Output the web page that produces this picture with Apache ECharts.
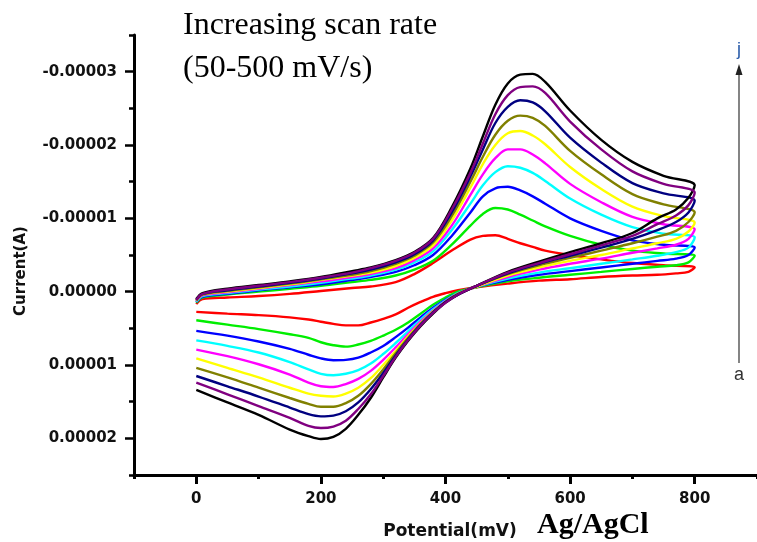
<!DOCTYPE html>
<html>
<head>
<meta charset="utf-8">
<script src="https://cdn.jsdelivr.net/npm/echarts@6/dist/echarts.min.js"></script>
<style>
html,body{margin:0;padding:0;background:#fff;}
#chart{width:757px;height:542px;}
</style>
</head>
<body>
<div id="chart"></div>
<script>
// Potentials (mV) of the forward (anodic) and reverse (cathodic) sweeps
const fwdPotential = [0, 10, 50, 100, 150, 200, 250, 280, 320, 350, 380, 410, 440, 460, 480, 500, 520, 540, 560, 600, 650, 700, 750, 800];
const revPotential = [790, 770, 740, 700, 650, 600, 550, 500, 450, 420, 400, 380, 360, 340, 320, 300, 280, 260, 240, 220, 200, 180, 150, 100, 50, 0];

// Curve colours (a..j = 50..500 mV/s); drawing order puts purple (i) last
const curveColors = ['#ff0000', '#00ee00', '#0000ff', '#00ffff', '#ff00ff', '#ffff00', '#808000', '#000080', '#000000', '#800080'];
const seriesNames = ['a', 'b', 'c', 'd', 'e', 'f', 'g', 'h', 'j', 'i'];

// Current in units of 1e-5 A (negative plotted upward, axis inverted)
const fwdA = [0.17, 0.1, 0.08, 0.06, 0.03, -0.01, -0.05, -0.07, -0.13, -0.24, -0.39, -0.56, -0.71, -0.76, -0.77, -0.72, -0.66, -0.61, -0.56, -0.5, -0.44, -0.39, -0.36, -0.33];
const revA = [-0.27, -0.25, -0.23, -0.22, -0.2, -0.17, -0.15, -0.11, -0.06, -0.02, 0.02, 0.07, 0.14, 0.22, 0.31, 0.37, 0.42, 0.46, 0.46, 0.44, 0.41, 0.38, 0.35, 0.32, 0.3, 0.275];

const fwdB = [0.15, 0.08, 0.04, 0.0, -0.04, -0.08, -0.13, -0.16, -0.22, -0.3, -0.42, -0.64, -0.9, -1.06, -1.14, -1.12, -1.05, -0.97, -0.89, -0.76, -0.64, -0.56, -0.52, -0.49];
const revB = [-0.4, -0.36, -0.34, -0.31, -0.27, -0.23, -0.19, -0.14, -0.06, 0.0, 0.08, 0.18, 0.3, 0.42, 0.52, 0.6, 0.67, 0.72, 0.75, 0.73, 0.69, 0.63, 0.58, 0.51, 0.45, 0.39];

const fwdC = [0.14, 0.07, 0.03, -0.02, -0.06, -0.1, -0.16, -0.2, -0.27, -0.36, -0.5, -0.76, -1.08, -1.3, -1.41, -1.43, -1.38, -1.3, -1.2, -1.0, -0.83, -0.7, -0.64, -0.6];
const revC = [-0.5, -0.45, -0.42, -0.38, -0.33, -0.28, -0.23, -0.16, -0.07, 0.02, 0.11, 0.22, 0.35, 0.49, 0.62, 0.74, 0.83, 0.9, 0.93, 0.935, 0.91, 0.86, 0.78, 0.68, 0.6, 0.535];

const fwdD = [0.14, 0.06, 0.02, -0.03, -0.07, -0.12, -0.18, -0.22, -0.3, -0.4, -0.55, -0.84, -1.2, -1.45, -1.63, -1.71, -1.69, -1.62, -1.51, -1.27, -1.05, -0.88, -0.79, -0.74];
const revD = [-0.6, -0.54, -0.49, -0.44, -0.38, -0.32, -0.26, -0.18, -0.07, 0.02, 0.12, 0.24, 0.38, 0.54, 0.7, 0.85, 0.98, 1.07, 1.12, 1.14, 1.12, 1.06, 0.96, 0.83, 0.74, 0.665];

const fwdE = [0.13, 0.05, 0.01, -0.04, -0.09, -0.14, -0.2, -0.24, -0.32, -0.43, -0.59, -0.9, -1.32, -1.6, -1.82, -1.94, -1.94, -1.87, -1.75, -1.47, -1.22, -1.02, -0.92, -0.85];
const revE = [-0.72, -0.64, -0.59, -0.53, -0.45, -0.38, -0.3, -0.2, -0.07, 0.03, 0.13, 0.26, 0.41, 0.58, 0.76, 0.93, 1.08, 1.19, 1.26, 1.3, 1.29, 1.24, 1.13, 0.99, 0.88, 0.79];

const fwdF = [0.12, 0.04, 0.0, -0.05, -0.1, -0.16, -0.22, -0.26, -0.35, -0.46, -0.63, -0.97, -1.42, -1.74, -2.0, -2.16, -2.19, -2.13, -2.01, -1.7, -1.4, -1.16, -1.03, -0.94];
const revF = [-0.82, -0.72, -0.66, -0.59, -0.5, -0.42, -0.33, -0.22, -0.07, 0.03, 0.14, 0.27, 0.43, 0.61, 0.81, 1.0, 1.18, 1.31, 1.39, 1.43, 1.42, 1.39, 1.31, 1.17, 1.04, 0.91];

const fwdG = [0.12, 0.04, -0.01, -0.06, -0.11, -0.17, -0.23, -0.28, -0.38, -0.49, -0.67, -1.03, -1.5, -1.84, -2.14, -2.33, -2.4, -2.37, -2.26, -1.92, -1.6, -1.33, -1.19, -1.08];
const revG = [-0.95, -0.83, -0.75, -0.66, -0.56, -0.46, -0.36, -0.24, -0.08, 0.03, 0.14, 0.28, 0.44, 0.63, 0.84, 1.06, 1.26, 1.42, 1.52, 1.57, 1.57, 1.53, 1.45, 1.31, 1.17, 1.04];

const fwdH = [0.11, 0.03, -0.02, -0.07, -0.12, -0.18, -0.25, -0.3, -0.4, -0.51, -0.7, -1.08, -1.57, -1.94, -2.3, -2.52, -2.61, -2.58, -2.46, -2.1, -1.76, -1.48, -1.34, -1.24];
const revH = [-1.08, -0.95, -0.84, -0.72, -0.6, -0.49, -0.38, -0.25, -0.08, 0.04, 0.14, 0.28, 0.45, 0.65, 0.87, 1.11, 1.33, 1.51, 1.63, 1.69, 1.7, 1.67, 1.58, 1.43, 1.29, 1.15];

const fwdJ = [0.1, 0.02, -0.04, -0.09, -0.14, -0.2, -0.28, -0.33, -0.43, -0.54, -0.73, -1.15, -1.68, -2.12, -2.55, -2.84, -2.96, -2.97, -2.86, -2.47, -2.07, -1.77, -1.58, -1.45];
const revJ = [-1.28, -1.12, -1.0, -0.8, -0.66, -0.54, -0.41, -0.27, -0.08, 0.04, 0.15, 0.3, 0.47, 0.67, 0.9, 1.17, 1.45, 1.68, 1.87, 1.98, 2.01, 1.97, 1.88, 1.68, 1.51, 1.34];

const fwdI = [0.11, 0.03, -0.03, -0.08, -0.13, -0.19, -0.26, -0.32, -0.42, -0.53, -0.72, -1.12, -1.62, -2.02, -2.42, -2.68, -2.79, -2.8, -2.71, -2.32, -1.94, -1.64, -1.47, -1.35];
const revI = [-1.18, -1.04, -0.92, -0.76, -0.63, -0.51, -0.39, -0.26, -0.08, 0.04, 0.15, 0.29, 0.46, 0.66, 0.89, 1.15, 1.4, 1.6, 1.76, 1.84, 1.86, 1.83, 1.72, 1.56, 1.4, 1.24];

const currentScale = 1e-5;

// Axis ticks
const xMajorTicks = [0, 200, 400, 600, 800];
const xTickLabels = ['0', '200', '400', '600', '800'];
const yMajorTicks = [-0.00003, -0.00002, -0.00001, 0, 0.00001, 0.00002];
const yTickLabels = ['-0.00003', '-0.00002', '-0.00001', '0.00000', '0.00001', '0.00002'];

const fwdSets = [fwdA, fwdB, fwdC, fwdD, fwdE, fwdF, fwdG, fwdH, fwdJ, fwdI];
const revSets = [revA, revB, revC, revD, revE, revF, revG, revH, revJ, revI];

const chart = echarts.init(document.getElementById('chart'), null, {renderer: 'canvas'});

const series = fwdSets.map((fwd, k) => {
  const rev = revSets[k];
  const data = fwdPotential.map((p, i) => [p, fwd[i] * currentScale])
    .concat(revPotential.map((p, i) => [p, rev[i] * currentScale]));
  return {
    name: seriesNames[k],
    type: 'line',
    data: data,
    smooth: 0.35,
    showSymbol: false,
    symbol: 'none',
    lineStyle: {color: curveColors[k], width: 2.4},
    itemStyle: {color: curveColors[k]},
    xAxisIndex: 0,
    yAxisIndex: 0,
    z: 2 + k
  };
});

const labelFont = {fontFamily: 'DejaVu Sans', fontWeight: 'bold', fontSize: 15, color: '#111'};

chart.setOption({
  animation: false,
  backgroundColor: '#fff',
  grid: {left: 134, top: 35, width: 629, height: 440, containLabel: false},
  xAxis: [
    {
      type: 'value', min: -100, max: 900, interval: 100, position: 'bottom',
      axisLine: {show: true, onZero: false, lineStyle: {color: '#000', width: 3}},
      axisTick: {show: true, inside: false, length: 4, lineStyle: {color: '#000', width: 3}},
      axisLabel: {show: false},
      splitLine: {show: false}
    },
    {
      type: 'value', min: -100, max: 900, position: 'bottom',
      axisLine: {show: false, onZero: false},
      axisTick: {show: true, length: 9, customValues: xMajorTicks, lineStyle: {color: '#000', width: 3}},
      axisLabel: Object.assign({show: true, margin: 17, customValues: xMajorTicks,
        formatter: v => { const i = xMajorTicks.indexOf(Math.round(v)); return i >= 0 ? xTickLabels[i] : ''; }}, labelFont),
      splitLine: {show: false}
    }
  ],
  yAxis: [
    {
      type: 'value', min: -0.000035, max: 0.000025, interval: 0.000005, inverse: true, position: 'left',
      axisLine: {show: true, onZero: false, lineStyle: {color: '#000', width: 3}},
      axisTick: {show: true, length: 5, lineStyle: {color: '#000', width: 2.5}},
      axisLabel: {show: false},
      splitLine: {show: false}
    },
    {
      type: 'value', min: -0.000035, max: 0.000025, inverse: true, position: 'left',
      axisLine: {show: false, onZero: false},
      axisTick: {show: true, length: 9, customValues: yMajorTicks, lineStyle: {color: '#000', width: 2.5}},
      axisLabel: Object.assign({show: true, margin: 17, customValues: yMajorTicks,
        formatter: v => {
          let best = 0, d = Infinity;
          yMajorTicks.forEach((t, i) => { const dd = Math.abs(t - v); if (dd < d) { d = dd; best = i; } });
          return yTickLabels[best];
        }}, labelFont),
      splitLine: {show: false}
    }
  ],
  graphic: [
    {type: 'text', x: 183, y: 26, style: {text: 'Increasing scan rate', font: '32px "Liberation Serif"', fill: '#000', align: 'left', verticalAlign: 'middle'}},
    {type: 'text', x: 183, y: 69, style: {text: '(50-500 mV/s)', font: '32px "Liberation Serif"', fill: '#000', align: 'left', verticalAlign: 'middle'}},
    {type: 'text', x: 21, y: 271, rotation: Math.PI / 2, style: {text: 'Current(A)', font: 'bold 15px "DejaVu Sans"', fill: '#111', align: 'center', verticalAlign: 'middle'}},
    {type: 'text', x: 450, y: 532, style: {text: 'Potential(mV)', font: 'bold 17px "DejaVu Sans"', fill: '#111', align: 'center', verticalAlign: 'middle'}},
    {type: 'text', x: 537, y: 525, style: {text: 'Ag/AgCl', font: 'bold 30px "Liberation Serif"', fill: '#000', align: 'left', verticalAlign: 'middle'}},
    {type: 'line', shape: {x1: 739, y1: 363, x2: 739, y2: 70}, style: {stroke: '#333', lineWidth: 1.2}},
    {type: 'polygon', shape: {points: [[739, 64], [735.5, 75], [742.5, 75]]}, style: {fill: '#222'}},
    {type: 'text', x: 739, y: 50, style: {text: 'j', font: '18px "Liberation Sans"', fill: '#2a5caa', align: 'center', verticalAlign: 'middle'}},
    {type: 'text', x: 739, y: 375, style: {text: 'a', font: '18px "Liberation Sans"', fill: '#333', align: 'center', verticalAlign: 'middle'}}
  ],
  series: series
});
</script>
</body>
</html>
